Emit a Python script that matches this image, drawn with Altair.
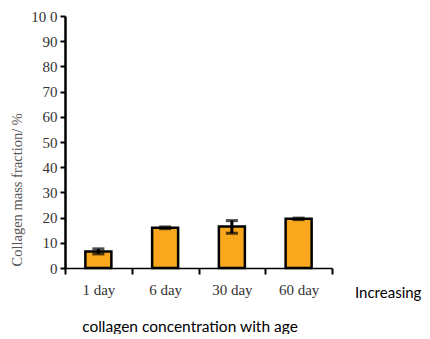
import altair as alt
import pandas as pd

categories = ["1 day", "6 day", "30 day", "60 day"]
values = [6.5, 16.0, 16.5, 19.5]
err_low = [5.6, 15.6, 13.8, 19.2]
err_high = [7.6, 16.3, 18.8, 19.8]
y_ticks = [0, 10, 20, 30, 40, 50, 60, 70, 80, 90, 100]

df = pd.DataFrame({"cat": categories, "val": values, "lo": err_low, "hi": err_high})

W, H = 267, 252
serif = "Liberation Serif"
sans = "Lato"
ytitle = "Collagen mass fraction/ %"

xaxis = alt.Axis(labelAngle=0, labelFont=serif, labelFontSize=15, labelColor="#333",
                 labelPadding=8, tickBand="extent", tickSize=6, tickWidth=2,
                 tickColor="black", domainColor="black", domainWidth=1.5)
yaxis = alt.Axis(values=y_ticks, labelExpr="datum.value == 100 ? '10 0' : datum.label",
                 labelOverlap=False, tickCount=11,
                 labelFont=serif, labelFontSize=15, labelColor="#333", labelPadding=3,
                 tickSize=5, tickWidth=2, tickColor="black",
                 domainColor="black", domainWidth=2.5, grid=False,
                 titleFont=serif, titleFontSize=14.5, titleFontWeight="normal",
                 titleColor="#555", titleAngle=270, titleAlign="left",
                 titleBaseline="middle", titleX=-48, titleY=250)
xscale = alt.Scale(paddingInner=0, paddingOuter=0)
yscale = alt.Scale(domain=[0, 100], nice=False)

bars = alt.Chart(df).mark_bar(size=26, color="#F9A81E", stroke="black", strokeWidth=2.5).encode(
    x=alt.X("cat:N", sort=categories, title=None, scale=xscale, axis=xaxis),
    y=alt.Y("val:Q", title=ytitle, scale=yscale, axis=yaxis))

errs = alt.Chart(df).mark_errorbar(
    ticks={"size": 12, "thickness": 3, "color": "black"},
    rule={"strokeWidth": 3, "color": "black"}).encode(
    x=alt.X("cat:N", sort=categories, title=None, scale=xscale, axis=xaxis),
    y=alt.Y("lo:Q", title=ytitle, scale=yscale, axis=yaxis), y2="hi:Q")

t1 = alt.Chart(pd.DataFrame({"t": ["Increasing"]})).mark_text(
    font=sans, fontSize=15, align="left", baseline="alphabetic", color="black").encode(
    text="t:N", x=alt.value(290), y=alt.value(282))
t2 = alt.Chart(pd.DataFrame({"t": ["collagen concentration with age"]})).mark_text(
    font=sans, fontSize=15.5, align="center", baseline="alphabetic", color="black").encode(
    text="t:N", x=alt.value(125), y=alt.value(316))

chart = alt.layer(bars, errs, t1, t2).properties(
    width=W, height=H, background="white",
    autosize=alt.AutoSizeParams(type="none"),
    padding={"left": 57, "top": 8, "right": 90, "bottom": 66},
).configure_view(strokeWidth=0, stroke=None)

chart.save("out.html", embed_options={"renderer": "svg", "actions": False})
